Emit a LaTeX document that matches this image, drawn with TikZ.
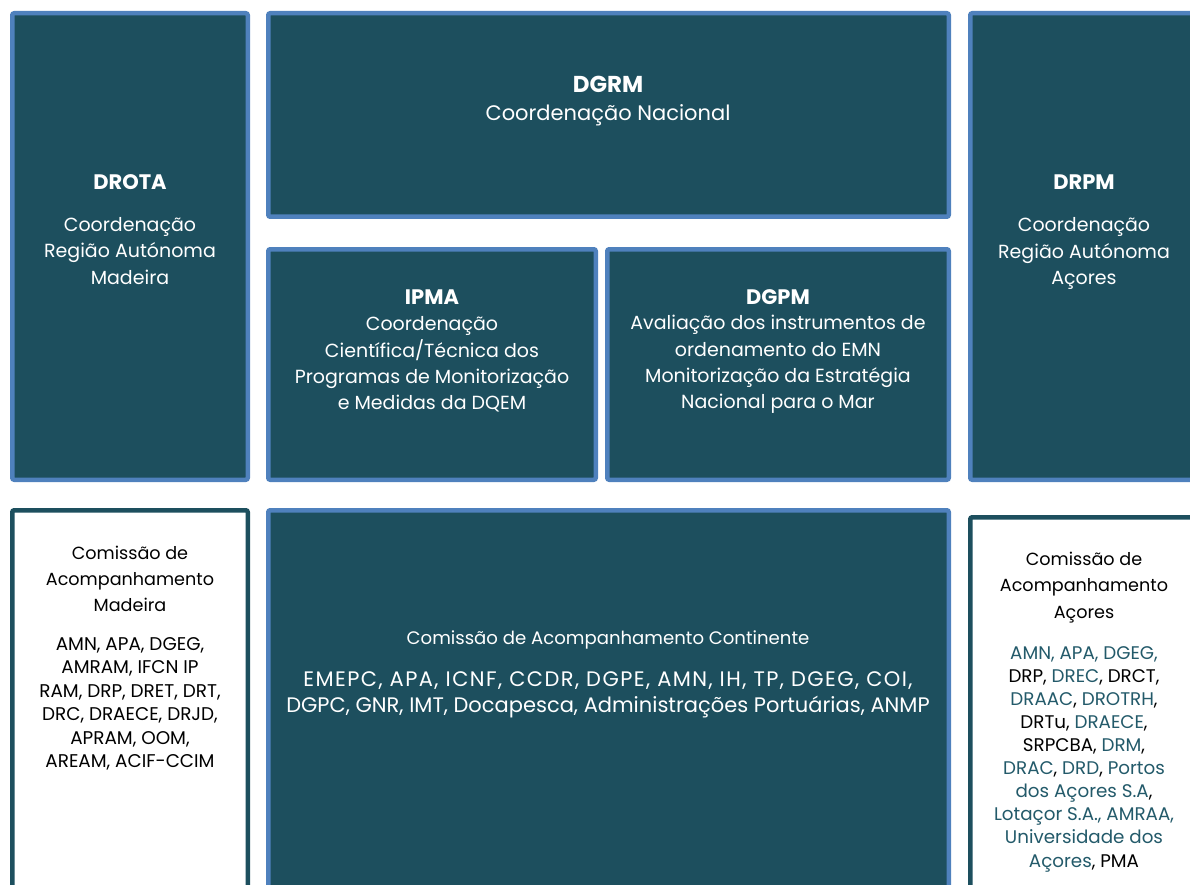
\documentclass[tikz,border=0pt]{standalone}
\usepackage{fontspec}
\setmainfont{Poppins}
\definecolor{teal}{HTML}{1D4F5E}
\definecolor{edgeblue}{HTML}{4F81BD}
\definecolor{tealtext}{HTML}{235A6A}
\newcommand{\tl}[1]{\textcolor{tealtext}{#1}}
\begin{document}
\begin{tikzpicture}[x=1pt,y=-1pt,
  darkbox/.style={draw=edgeblue,fill=teal,line width=4.5pt,rounded corners=2pt},
  lightbox/.style={draw=teal,fill=white,line width=4.5pt,rounded corners=2pt},
  head/.style={text=white,font=\fontsize{21}{26}\selectfont\bfseries,inner sep=0pt},
  body/.style={text=white,font=\fontsize{19}{26.3}\selectfont,align=center,inner sep=0pt},
  blackbody/.style={text=black,font=\fontsize{17.6}{26.2}\selectfont,align=center,inner sep=0pt},
  list/.style={text=black,font=\fontsize{18.4}{23.5}\selectfont,align=center,inner sep=0pt}]
\useasboundingbox (0,0) rectangle (1190,885);
% boxes
\path[darkbox] (12.25,13.25) rectangle (247.75,479.75);
\path[darkbox] (268.25,13.25) rectangle (948.75,216.75);
\path[darkbox] (268.25,249.25) rectangle (595.75,479.75);
\path[darkbox] (607.25,249.25) rectangle (948.75,479.75);
\path[darkbox] (970.25,13.25) rectangle (1200,479.75);
\path[lightbox] (12.25,510.25) rectangle (247.75,900);
\path[darkbox] (268.25,510.25) rectangle (948.75,900);
\path[lightbox] (970.25,517.25) rectangle (1200,900);
% texts
\node[head] (drotaH) at (130,182) {DROTA};
\node[body] (drotaB) at (130,251) {Coordenação\\Região Autónoma\\Madeira};
\node[head,font=\fontsize{23}{26}\selectfont\bfseries] (dgrmH) at (608,84) {DGRM};
\node[body,font=\fontsize{21}{26}\selectfont] (dgrmB) at (608,115) {Coordenação Nacional};
\node[head] (ipmaH) at (432,297) {IPMA};
\node[body] (ipmaB) at (432,364.5) {Coordenação\\Científica/Técnica dos\\Programas de Monitorização\\e Medidas da DQEM};
\node[head] (dgpmH) at (778,297) {DGPM};
\node[body] (dgpmB) at (778,364.5) {Avaliação dos instrumentos de\\ordenamento do EMN\\Monitorização da Estratégia\\Nacional para o Mar};
\node[head] (drpmH) at (1084,182) {DRPM};
\node[body] (drpmB) at (1084,253.5) {Coordenação\\Região Autónoma\\Açores};
\node[blackbody] (madT) at (130,579) {Comissão de\\Acompanhamento\\Madeira};
\node[list] (madL) at (130,704) {AMN, APA, DGEG,\\AMRAM, IFCN IP\\RAM, DRP, DRET, DRT,\\DRC, DRAECE, DRJD,\\APRAM, OOM,\\AREAM, ACIF-CCIM};
\node[body,font=\fontsize{18.1}{26}\selectfont] (conT) at (608,640) {Comissão de Acompanhamento Continente};
\node[body,font=\fontsize{21}{25.5}\selectfont] (conL) at (608,695) {\addfontfeature{LetterSpace=6.8}EMEPC, APA, ICNF, CCDR, DGPE, AMN, IH, TP, DGEG, COI,\\DGPC, GNR, IMT, Docapesca, Administrações Portuárias, ANMP};
\node[blackbody] (acoT) at (1084,587.5) {Comissão de\\Acompanhamento\\Açores};
\node[list,font=\fontsize{18.3}{23.1}\selectfont] (acoL) at (1084,759) {\tl{AMN, APA, DGEG,}\\DRP, \tl{DREC}, DRCT,\\\tl{DRAAC}, \tl{DROTRH},\\DRTu, \tl{DRAECE},\\SRPCBA, \tl{DRM},\\\tl{DRAC}, \tl{DRD}, \tl{Portos}\\\tl{dos Açores S.A},\\\tl{Lotaçor S.A., AMRAA,}\\\tl{Universidade dos}\\\tl{Açores}, PMA};
\end{tikzpicture}
\end{document}
